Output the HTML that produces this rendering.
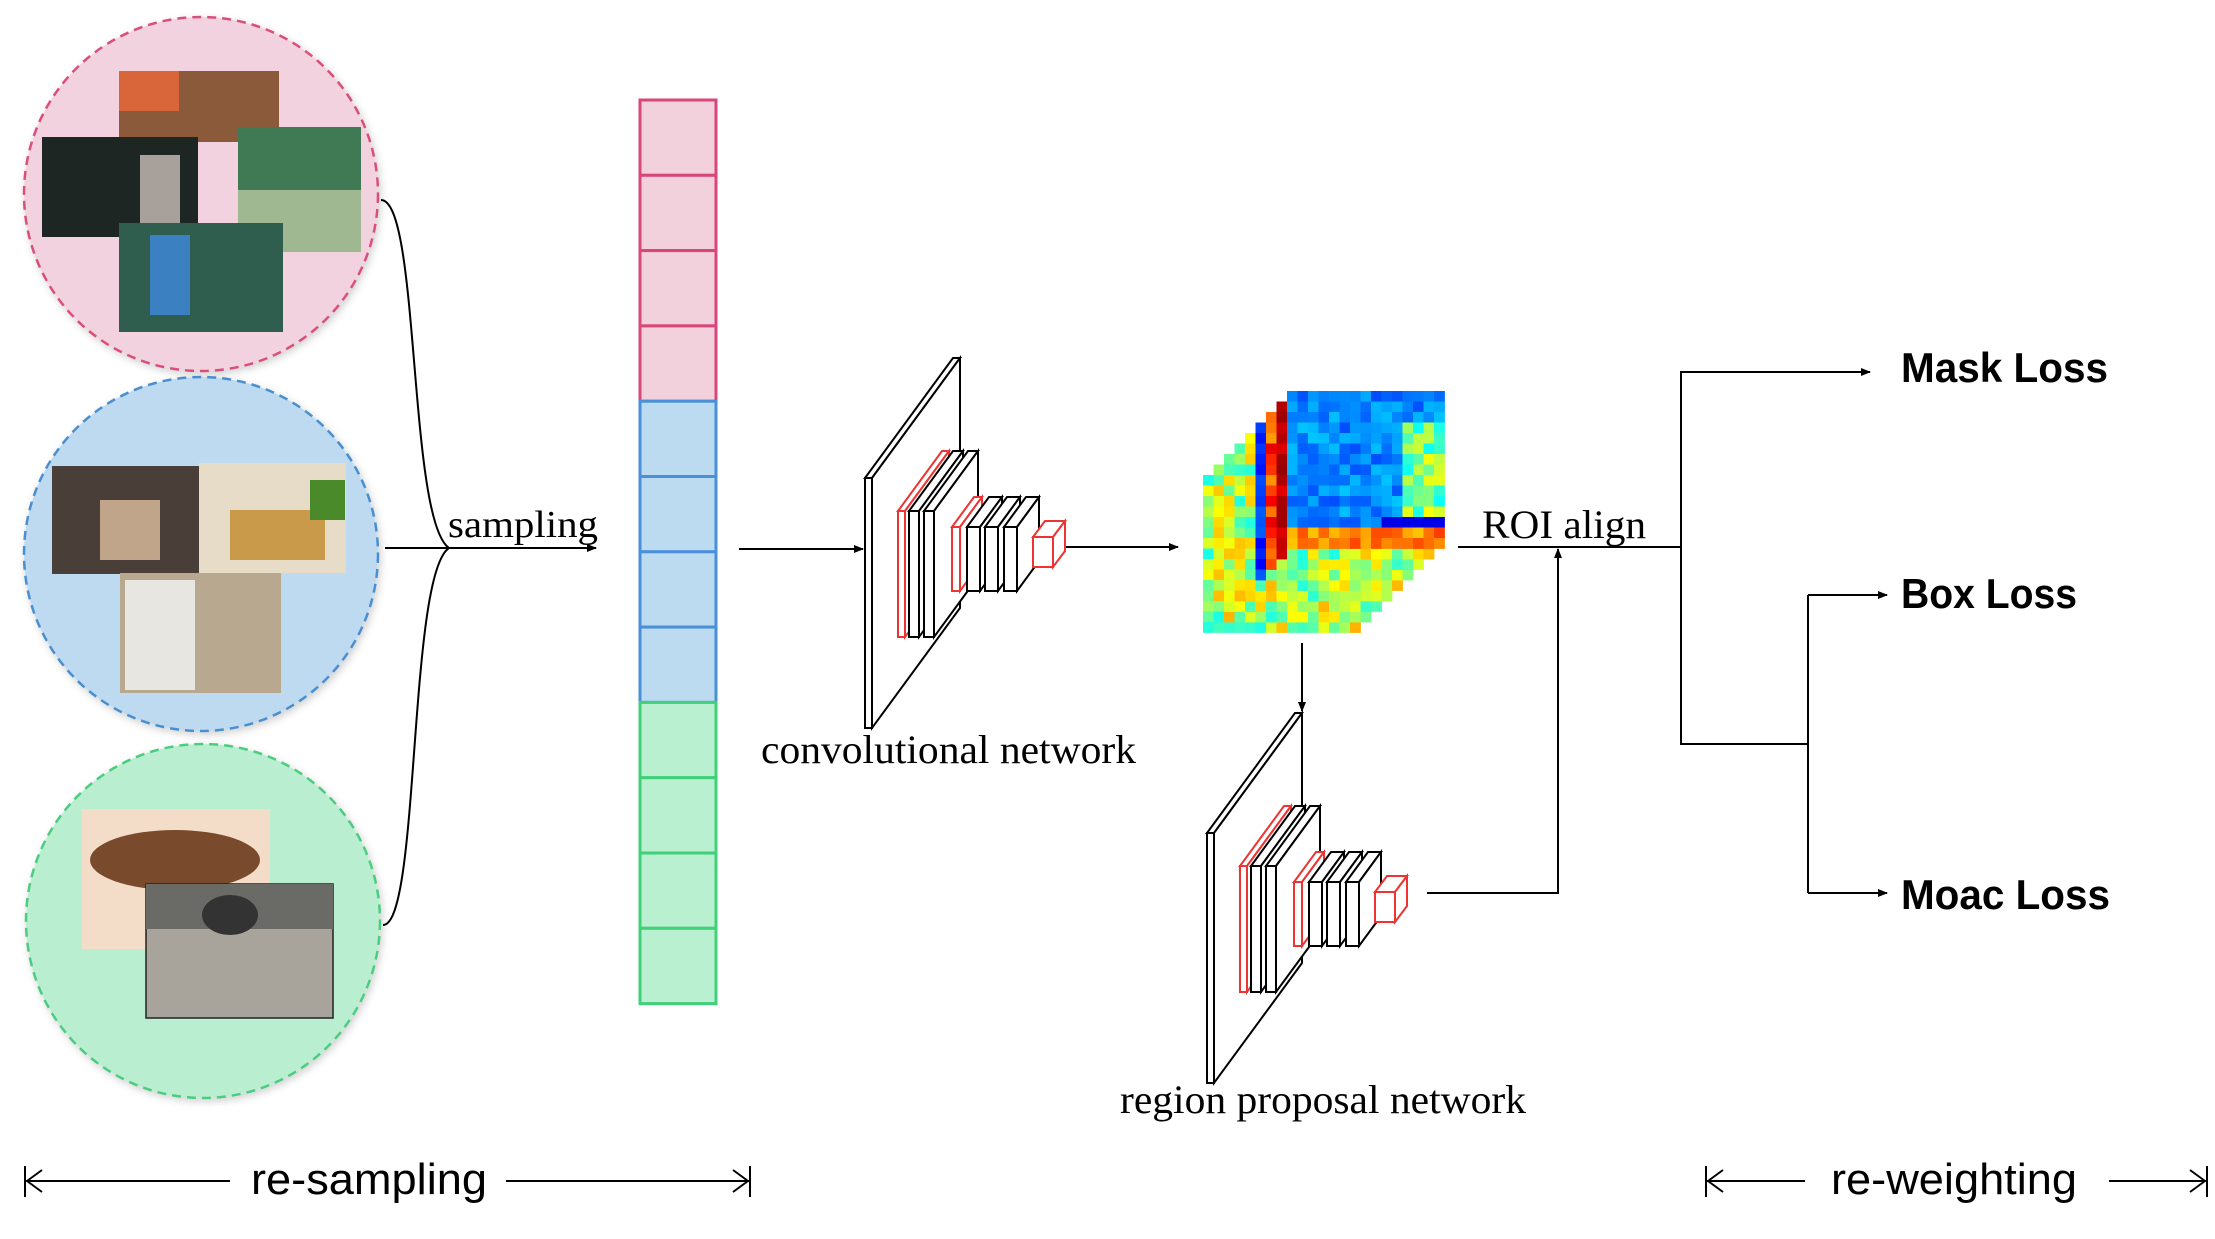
<!DOCTYPE html>
<html><head><meta charset="utf-8"><style>
html,body{margin:0;padding:0;background:#fff;}
svg{display:block;}
.serif{font-family:"Liberation Serif",serif;}
.sans{font-family:"Liberation Sans",sans-serif;}
</style></head><body>
<svg id="s" width="2215" height="1239" viewBox="0 0 2215 1239" xmlns="http://www.w3.org/2000/svg">
<defs>
<marker id="ah" markerWidth="10" markerHeight="10" refX="9" refY="5" orient="auto" markerUnits="userSpaceOnUse"><path d="M0,1 L10,5 L0,9 z" fill="#000"/></marker>
<filter id="sh" x="-10%" y="-10%" width="120%" height="120%"><feDropShadow dx="2" dy="3" stdDeviation="4" flood-color="#000" flood-opacity="0.18"/></filter>
</defs>
<rect width="2215" height="1239" fill="#fff"/>
<circle cx="201" cy="194" r="177" fill="#f2d2de" stroke="#d9507a" stroke-width="2.5" stroke-dasharray="9,6" filter="url(#sh)"/>
<circle cx="201" cy="554" r="177" fill="#bddaf0" stroke="#4a8fd0" stroke-width="2.5" stroke-dasharray="9,6" filter="url(#sh)"/>
<circle cx="203" cy="921" r="177" fill="#b9efd0" stroke="#4ccc80" stroke-width="2.5" stroke-dasharray="9,6" filter="url(#sh)"/>
<rect x="119" y="71" width="160" height="71" fill="#8a5a3a"/>
<rect x="119" y="71" width="60" height="40" fill="#d8663a"/>
<rect x="42" y="137" width="156" height="100" fill="#1d2622"/>
<rect x="140" y="155" width="40" height="80" fill="#a8a09a"/>
<rect x="238" y="127" width="123" height="125" fill="#3f7a55"/>
<rect x="238" y="190" width="123" height="62" fill="#9fb892"/>
<rect x="119" y="223" width="164" height="109" fill="#2f5e4e"/>
<rect x="150" y="235" width="40" height="80" fill="#3b80c0"/>
<rect x="52" y="466" width="147" height="108" fill="#4a3f38"/>
<rect x="100" y="500" width="60" height="60" fill="#c0a58a"/>
<rect x="199" y="463" width="147" height="110" fill="#e6dcc8"/>
<rect x="230" y="510" width="95" height="50" fill="#c89a4a"/>
<rect x="310" y="480" width="35" height="40" fill="#4a8a2a"/>
<rect x="120" y="573" width="161" height="120" fill="#b8a890"/>
<rect x="125" y="580" width="70" height="110" fill="#e8e6e0"/>
<rect x="82" y="809" width="188" height="140" fill="#f3dcc8"/>
<ellipse cx="175" cy="860" rx="85" ry="30" fill="#7a4a2c"/>
<rect x="146" y="884" width="187" height="134" fill="#a8a49c" stroke="#222" stroke-width="1.5"/>
<rect x="146" y="884" width="187" height="45" fill="#6a6a66"/>
<ellipse cx="230" cy="915" rx="28" ry="20" fill="#333"/>
<g fill="none" stroke="#000" stroke-width="2">
<path d="M381,200 C420,200 408,520 449,548"/>
<path d="M383,925 C420,925 408,575 449,548"/>
<path d="M385,548 L596,548" marker-end="url(#ah)"/>
</g>
<text x="448" y="537" class="serif" font-size="38" textLength="150" lengthAdjust="spacingAndGlyphs">sampling</text>
<g id="bar"></g>
<g fill="none" stroke="#000" stroke-width="2">
<path d="M739,549 L863,549" marker-end="url(#ah)"/>
<path d="M1066,547 L1178,547" marker-end="url(#ah)"/>
<path d="M1302,643 L1302,711" marker-end="url(#ah)"/>
<path d="M1458,547 L1681,547"/>
<path d="M1427,893 L1558,893 L1558,549" marker-end="url(#ah)"/>
<path d="M1681,547 L1681,372 L1870,372" marker-end="url(#ah)"/>
<path d="M1681,547 L1681,744 L1808,744"/>
<path d="M1808,595 L1808,893"/>
<path d="M1808,595 L1887,595" marker-end="url(#ah)"/>
<path d="M1808,893 L1887,893" marker-end="url(#ah)"/>
</g>
<g id="conv"></g>
<g id="rpn" transform="translate(342,355)"></g>
<g id="fmap"></g>
<text x="761" y="763" class="serif" font-size="40" textLength="375" lengthAdjust="spacingAndGlyphs">convolutional network</text>
<text x="1482" y="538" class="serif" font-size="40" textLength="164" lengthAdjust="spacingAndGlyphs">ROI align</text>
<text x="1120" y="1113" class="serif" font-size="40" textLength="406" lengthAdjust="spacingAndGlyphs">region proposal network</text>
<g class="sans" font-weight="bold" font-size="42">
<text x="1901" y="382" textLength="207" lengthAdjust="spacingAndGlyphs">Mask Loss</text>
<text x="1901" y="608" textLength="176" lengthAdjust="spacingAndGlyphs">Box Loss</text>
<text x="1901" y="909" textLength="209" lengthAdjust="spacingAndGlyphs">Moac Loss</text>
</g>
<g fill="none" stroke="#000" stroke-width="2">
<path d="M25,1181 L230,1181 M25,1166 L25,1197 M27,1181 L42,1170 M27,1181 L42,1192"/>
<path d="M506,1181 L750,1181 M750,1166 L750,1197 M748,1181 L733,1170 M748,1181 L733,1192"/>
<path d="M1706,1181 L1805,1181 M1706,1166 L1706,1197 M1708,1181 L1723,1170 M1708,1181 L1723,1192"/>
<path d="M2109,1181 L2207,1181 M2207,1166 L2207,1197 M2205,1181 L2190,1170 M2205,1181 L2190,1192"/>
</g>
<text x="251" y="1194" class="sans" font-size="44" textLength="236" lengthAdjust="spacingAndGlyphs">re-sampling</text>
<text x="1831" y="1194" class="sans" font-size="44" textLength="246" lengthAdjust="spacingAndGlyphs">re-weighting</text>
</svg>
<script>
var NS="http://www.w3.org/2000/svg";
function el(p,t,a){var e=document.createElementNS(NS,t);for(var k in a)e.setAttribute(k,a[k]);p.appendChild(e);return e;}
var bar=document.getElementById("bar");
var cols=[["#f2d0dc","#d8467a"],["#bcdaf0","#4a90d9"],["#b8f0d0","#40d07a"]];
for(var i=0;i<12;i++){var c=cols[Math.floor(i/4)];el(bar,"rect",{x:640,y:100+i*75.3,width:76,height:75.3,fill:c[0],stroke:c[1],"stroke-width":3});}
function box(g,x,y,w,h,dx,dy,col){
 var a={fill:"#fff",stroke:col,"stroke-width":2,"stroke-linejoin":"miter"};
 el(g,"polygon",Object.assign({points:[x,y,x+dx,y+dy,x+w+dx,y+dy,x+w,y].join(",")},a));
 el(g,"polygon",Object.assign({points:[x+w,y,x+w+dx,y+dy,x+w+dx,y+h+dy,x+w,y+h].join(",")},a));
 el(g,"rect",Object.assign({x:x,y:y,width:w,height:h},a));
}
function net(g){
 box(g,865,478,7,250,88,-120,"#000");
 box(g,898,511,7,126,44,-60,"#e33");
 box(g,909,511,10,126,44,-60,"#000");
 box(g,924,511,10,126,44,-60,"#000");
 box(g,952,527,8,64,22,-30,"#e33");
 box(g,967,527,13,64,22,-30,"#000");
 box(g,985,527,13,64,22,-30,"#000");
 box(g,1004,527,13,64,22,-30,"#000");
 box(g,1033,537,20,30,12,-16,"#e33");
}
net(document.getElementById("conv"));
net(document.getElementById("rpn"));
var seed=7;function rnd(){seed=(seed*16807)%2147483647;return seed/2147483647;}
function jet(v){v=Math.max(0,Math.min(1,v));var r=Math.min(1,Math.max(0,1.5-Math.abs(4*v-3))),g=Math.min(1,Math.max(0,1.5-Math.abs(4*v-2))),b=Math.min(1,Math.max(0,1.5-Math.abs(4*v-1)));return "rgb("+Math.round(r*255)+","+Math.round(g*255)+","+Math.round(b*255)+")";}
var fm=document.getElementById("fmap");var cs=10.5,N=15,L=8;
for(var l=L;l>=0;l--){
 var ox=1287-l*cs,oy=391+l*cs;
 for(var r=0;r<N;r++)for(var c=0;c<N;c++){
  var v;
  if(l==0){v=0.2+rnd()*0.12; if(r>=13)v=0.68+rnd()*0.14; else if(r==12&&c>=9)v=0.1; else if(c>=11&&r>=3)v=0.38+rnd()*0.25;}
  else if(l==1){v=(c<1)?0.9+rnd()*0.08:0.4+rnd()*0.3;}
  else if(l==2){v=(c<1)?0.7+rnd()*0.2:0.4+rnd()*0.3;}
  else if(l==3){v=(c<1)?0.12+rnd()*0.1:0.45+rnd()*0.2;}
  else v=0.4+rnd()*0.3;
  el(fm,"rect",{x:(ox+c*cs).toFixed(1),y:(oy+r*cs).toFixed(1),width:cs+0.4,height:cs+0.4,fill:jet(v)});
 }
}
</script>
</body></html>
